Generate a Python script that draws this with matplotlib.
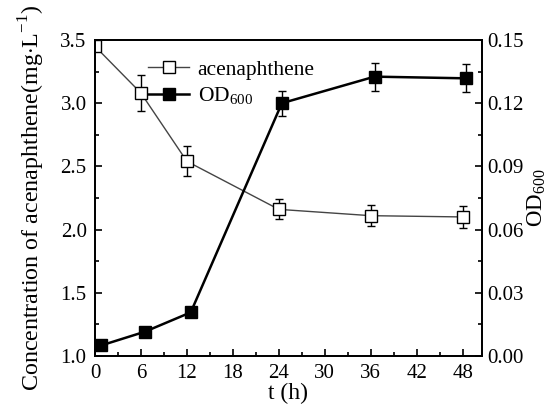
import numpy as np
import matplotlib
matplotlib.use('Agg')
import matplotlib.pyplot as plt
from matplotlib.ticker import MultipleLocator
from matplotlib.lines import Line2D

plt.rcParams['font.family'] = ['Liberation Serif', 'DejaVu Serif']
plt.rcParams['mathtext.fontset'] = 'custom'
plt.rcParams['mathtext.rm'] = 'Liberation Serif'

# acenaphthene concentration (left axis)
t_ace = [0, 6, 12, 24, 36, 48]
ace = [3.45, 3.08, 2.54, 2.16, 2.11, 2.10]
ace_err = [0.0, 0.145, 0.12, 0.08, 0.085, 0.085]

# OD600 (right axis)
t_od = [0.8, 6.5, 12.5, 24.4, 36.5, 48.4]
od = [0.005, 0.0115, 0.0207, 0.120, 0.1326, 0.1318]
od_err = [0.0, 0.0, 0.0, 0.006, 0.0067, 0.0067]

fig = plt.figure(figsize=(5.5, 4.08), dpi=100)
ax = fig.add_axes([0.1727, 0.1275, 0.876 - 0.1727, 0.902 - 0.1275])
ax2 = ax.twinx()

ace_style = dict(color='#444444', lw=1.0, marker='s', ms=8, mfc='white',
                 mec='black', mew=1.0)
od_style = dict(color='black', lw=1.8, marker='s', ms=8.5, mfc='black',
                mec='black')

ax.errorbar(t_ace, ace, yerr=ace_err, ecolor='black', elinewidth=1.0,
            capsize=3, capthick=1.0, **ace_style)
ax2.errorbar(t_od, od, yerr=od_err, ecolor='black', elinewidth=1.0,
             capsize=3, capthick=1.0, **od_style)

ax.set_xlim(0, 50.5)
ax.set_ylim(1.0, 3.5)
ax2.set_ylim(0, 0.15)

ax.xaxis.set_major_locator(MultipleLocator(6))
ax.xaxis.set_minor_locator(MultipleLocator(3))
ax.yaxis.set_major_locator(MultipleLocator(0.5))
ax.yaxis.set_minor_locator(MultipleLocator(0.25))
ax2.yaxis.set_major_locator(MultipleLocator(0.03))
ax2.yaxis.set_minor_locator(MultipleLocator(0.015))
ax.yaxis.set_major_formatter(plt.FormatStrFormatter('%.1f'))
ax2.yaxis.set_major_formatter(plt.FormatStrFormatter('%.2f'))

for a in (ax, ax2):
    a.tick_params(which='major', direction='in', length=5, width=1.2,
                  labelsize=15, pad=6)
    a.tick_params(which='minor', direction='in', length=3, width=1.2)
    for s in a.spines.values():
        s.set_linewidth(1.3)
ax.tick_params(which='both', top=False, right=False)
ax2.tick_params(which='both', right=True, left=False)
ax2.tick_params(which='major', pad=4)

ax.set_xlabel('t (h)', fontsize=17, labelpad=0)
ax.set_ylabel('Concentration of acenaphthene(mg$\\cdot$L$^{-1}$)', fontsize=17.3, labelpad=10)
ax2.set_ylabel('OD$_{600}$', fontsize=16.5, labelpad=1)

handles = [Line2D([], [], **ace_style), Line2D([], [], **od_style)]
ax.legend(handles, ['acenaphthene', 'OD$_{600}$'], loc='upper left',
          bbox_to_anchor=(0.115, 0.965), frameon=False, fontsize=15.5,
          handlelength=1.9, handletextpad=0.4, labelspacing=0.25, borderaxespad=0)

fig.savefig('out.png', dpi=100)
